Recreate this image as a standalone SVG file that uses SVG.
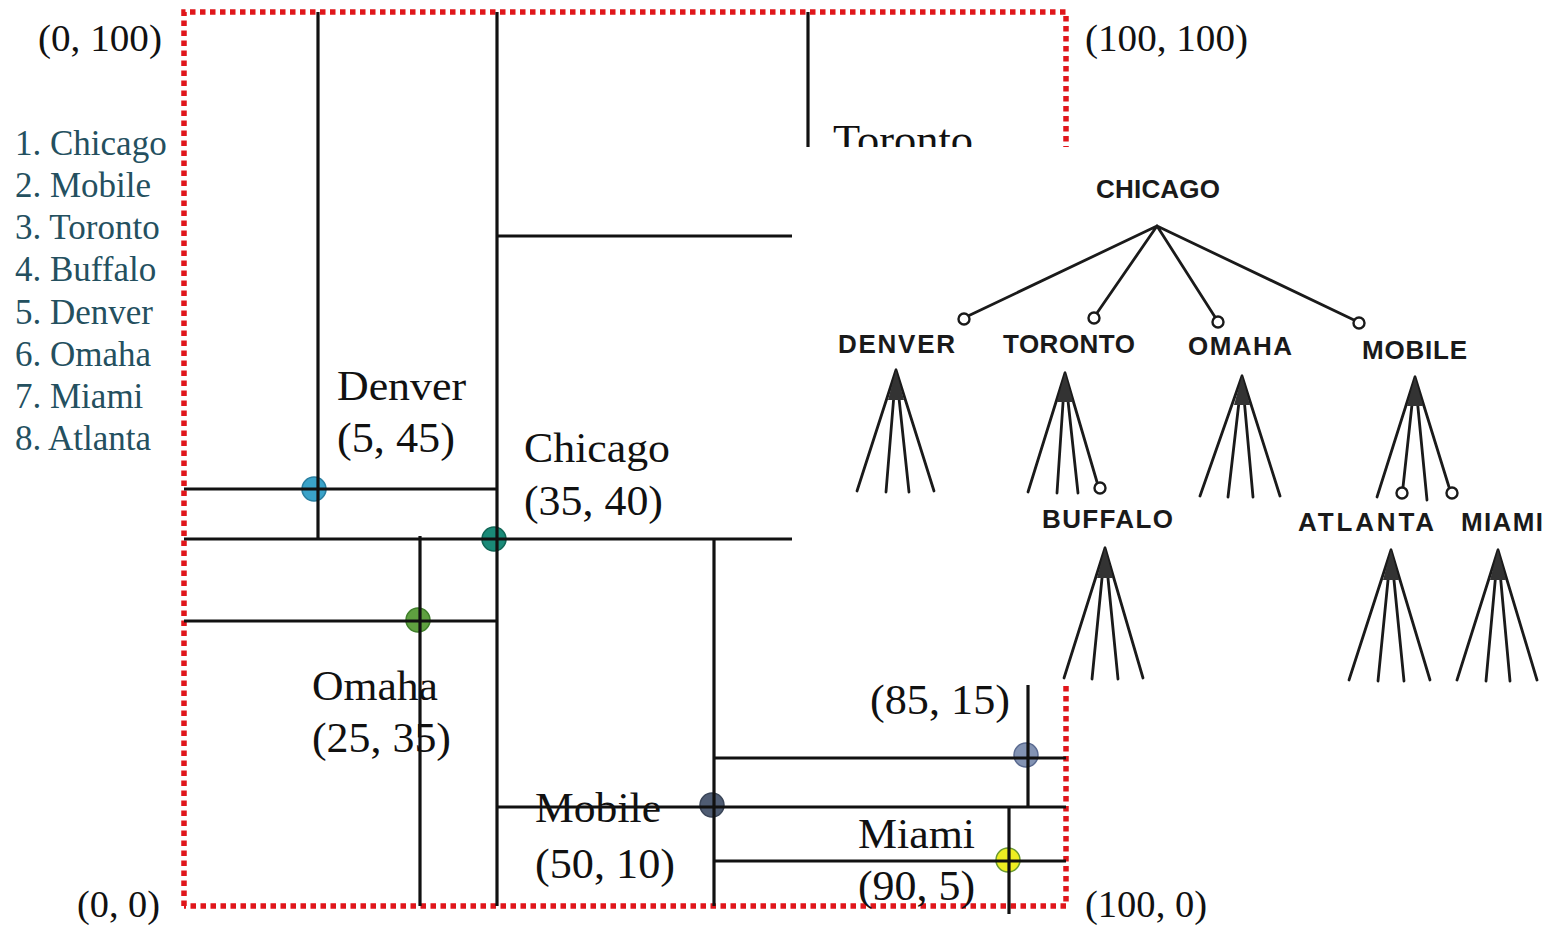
<svg xmlns="http://www.w3.org/2000/svg" width="1547" height="925" viewBox="0 0 1547 925">
<style>
.lbl{font-family:"Liberation Serif","Times New Roman",serif;font-size:42px;fill:#111}
.crn{font-family:"Liberation Serif","Times New Roman",serif;font-size:38px;fill:#111}
.lst{font-family:"Liberation Serif","Times New Roman",serif;font-size:35px;fill:#24505f}
.ln{stroke:#111;stroke-width:3.2;fill:none}
.brd{stroke:#e0161b;stroke-width:5.5;fill:none;stroke-dasharray:5.5 4.5}
.tl{font-family:"Liberation Sans",Arial,sans-serif;font-weight:bold;font-size:26px;fill:#1a1a1a}
.te{stroke:#1a1a1a;stroke-width:2.8;fill:none;stroke-linecap:round}
.tc{stroke:#1a1a1a;stroke-width:2.4;fill:#fff}
.ap{fill:#333}
</style>
<rect width="1547" height="925" fill="#fff"/>

<g id="border">
<path class="brd" d="M184,906 V12 H1066 V906 H184"/>
</g>

<g id="labels">
<text class="crn" x="38" y="51" textLength="124" lengthAdjust="spacingAndGlyphs">(0, 100)</text>
<text class="crn" x="1085" y="51" textLength="163" lengthAdjust="spacingAndGlyphs">(100, 100)</text>
<text class="crn" x="77" y="917" textLength="83" lengthAdjust="spacingAndGlyphs">(0, 0)</text>
<text class="crn" x="1085" y="917" textLength="122" lengthAdjust="spacingAndGlyphs">(100, 0)</text>
</g>

<g id="list">
<text class="lst" x="15" y="155">1. Chicago</text>
<text class="lst" x="15" y="197">2. Mobile</text>
<text class="lst" x="15" y="239">3. Toronto</text>
<text class="lst" x="15" y="281">4. Buffalo</text>
<text class="lst" x="15" y="324">5. Denver</text>
<text class="lst" x="15" y="366">6. Omaha</text>
<text class="lst" x="15" y="408">7. Miami</text>
<text class="lst" x="15" y="450">8. Atlanta</text>
</g>

<g id="city-labels">
<text class="lbl" x="337" y="400" textLength="129" lengthAdjust="spacingAndGlyphs">Denver</text>
<text class="lbl" x="337" y="452" textLength="118" lengthAdjust="spacingAndGlyphs">(5, 45)</text>
<text class="lbl" x="524" y="462" textLength="146" lengthAdjust="spacingAndGlyphs">Chicago</text>
<text class="lbl" x="524" y="515" textLength="139" lengthAdjust="spacingAndGlyphs">(35, 40)</text>
<text class="lbl" x="312" y="700" textLength="126" lengthAdjust="spacingAndGlyphs">Omaha</text>
<text class="lbl" x="312" y="752" textLength="139" lengthAdjust="spacingAndGlyphs">(25, 35)</text>
<text class="lbl" x="535" y="822" textLength="126" lengthAdjust="spacingAndGlyphs">Mobile</text>
<text class="lbl" x="535" y="878" textLength="140" lengthAdjust="spacingAndGlyphs">(50, 10)</text>
<text class="lbl" x="870" y="714" textLength="140" lengthAdjust="spacingAndGlyphs">(85, 15)</text>
<text class="lbl" x="858" y="848" textLength="117" lengthAdjust="spacingAndGlyphs">Miami</text>
<text class="lbl" x="858" y="900" textLength="117" lengthAdjust="spacingAndGlyphs">(90, 5)</text>
<text class="lbl" x="833" y="154" textLength="140" lengthAdjust="spacingAndGlyphs">Toronto</text>
</g>

<g id="points">
<circle cx="314" cy="489" r="12" fill="#3aa3c9" stroke="#2a7fa0" stroke-width="1.5"/>
<circle cx="494" cy="539" r="12" fill="#1a8a78" stroke="#116656" stroke-width="1.5"/>
<circle cx="418" cy="620" r="12" fill="#5fa040" stroke="#3f7f2a" stroke-width="1.5"/>
<circle cx="712" cy="805" r="12" fill="#4f5c73" stroke="#3a4558" stroke-width="1.5"/>
<circle cx="1026" cy="755" r="12" fill="#8393b3" stroke="#5a6a90" stroke-width="1.5"/>
<circle cx="1008" cy="860" r="12" fill="#eeee22" stroke="#6a9a30" stroke-width="1.5"/>
</g>

<g id="connectors">
<path class="ln" d="M318,12 V539"/>
<path class="ln" d="M497,12 V906"/>
<path class="ln" d="M808,12 V160"/>
<path class="ln" d="M497,236 H800"/>
<path class="ln" d="M184,489 H497"/>
<path class="ln" d="M184,539 H800"/>
<path class="ln" d="M420,536 V906"/>
<path class="ln" d="M184,621 H497"/>
<path class="ln" d="M714,540 V906"/>
<path class="ln" d="M497,807 H1066"/>
<path class="ln" d="M714,758 H1066"/>
<path class="ln" d="M1028,685 V807"/>
<path class="ln" d="M1009,807 V914"/>
<path class="ln" d="M714,861 H1066"/>
</g>

<rect id="tree-panel" x="792" y="147" width="755" height="536" fill="#fff"/>

<g id="tree-edges">
<path class="te" d="M1157,226 L968,316 M1157,226 L1097,313 M1157,226 L1215,317 M1157,226 L1354,320"/>
<path class="te" d="M896,370 L857,491 M896,370 L886,492 M896,370 L909,492 M896,370 L934,491"/>
<path class="ap" d="M896,370 L888,400 L904,400 Z"/>
<path class="te" d="M1065,373 L1028,492 M1065,373 L1057,493 M1065,373 L1078,493 M1065,373 L1097,482"/>
<path class="ap" d="M1065,373 L1057,402 L1073,402 Z"/>
<path class="te" d="M1242,376 L1200,496 M1242,376 L1228,497 M1242,376 L1253,497 M1242,376 L1280,496"/>
<path class="ap" d="M1242,376 L1234,405 L1250,405 Z"/>
<path class="te" d="M1415,377 L1377,497 M1415,377 L1403,487 M1415,377 L1427,500 M1415,377 L1449,487"/>
<path class="ap" d="M1415,377 L1407,406 L1423,406 Z"/>
<path class="te" d="M1105,548 L1064,678 M1105,548 L1092,679 M1105,548 L1118,679 M1105,548 L1143,678"/>
<path class="ap" d="M1105,548 L1097,578 L1113,578 Z"/>
<path class="te" d="M1391,550 L1349,680 M1391,550 L1378,681 M1391,550 L1404,681 M1391,550 L1430,680"/>
<path class="ap" d="M1391,550 L1383,580 L1399,580 Z"/>
<path class="te" d="M1498,550 L1457,680 M1498,550 L1486,681 M1498,550 L1510,681 M1498,550 L1537,680"/>
<path class="ap" d="M1498,550 L1490,580 L1506,580 Z"/>
</g>

<g id="tree-circles">
<circle class="tc" cx="964" cy="319" r="5.5"/>
<circle class="tc" cx="1094" cy="318" r="5.5"/>
<circle class="tc" cx="1218" cy="322" r="5.5"/>
<circle class="tc" cx="1359" cy="323" r="5.5"/>
<circle class="tc" cx="1100" cy="488" r="5.5"/>
<circle class="tc" cx="1402" cy="493" r="5.5"/>
<circle class="tc" cx="1452" cy="493" r="5.5"/>
</g>

<g id="tree-labels">
<text class="tl" x="1096" y="198" textLength="124">CHICAGO</text>
<text class="tl" x="838" y="353" textLength="117">DENVER</text>
<text class="tl" x="1003" y="353" textLength="132">TORONTO</text>
<text class="tl" x="1188" y="355" textLength="104">OMAHA</text>
<text class="tl" x="1362" y="359" textLength="105">MOBILE</text>
<text class="tl" x="1042" y="528" textLength="131">BUFFALO</text>
<text class="tl" x="1298" y="531" textLength="136">ATLANTA</text>
<text class="tl" x="1461" y="531" textLength="82">MIAMI</text>
</g>
</svg>
